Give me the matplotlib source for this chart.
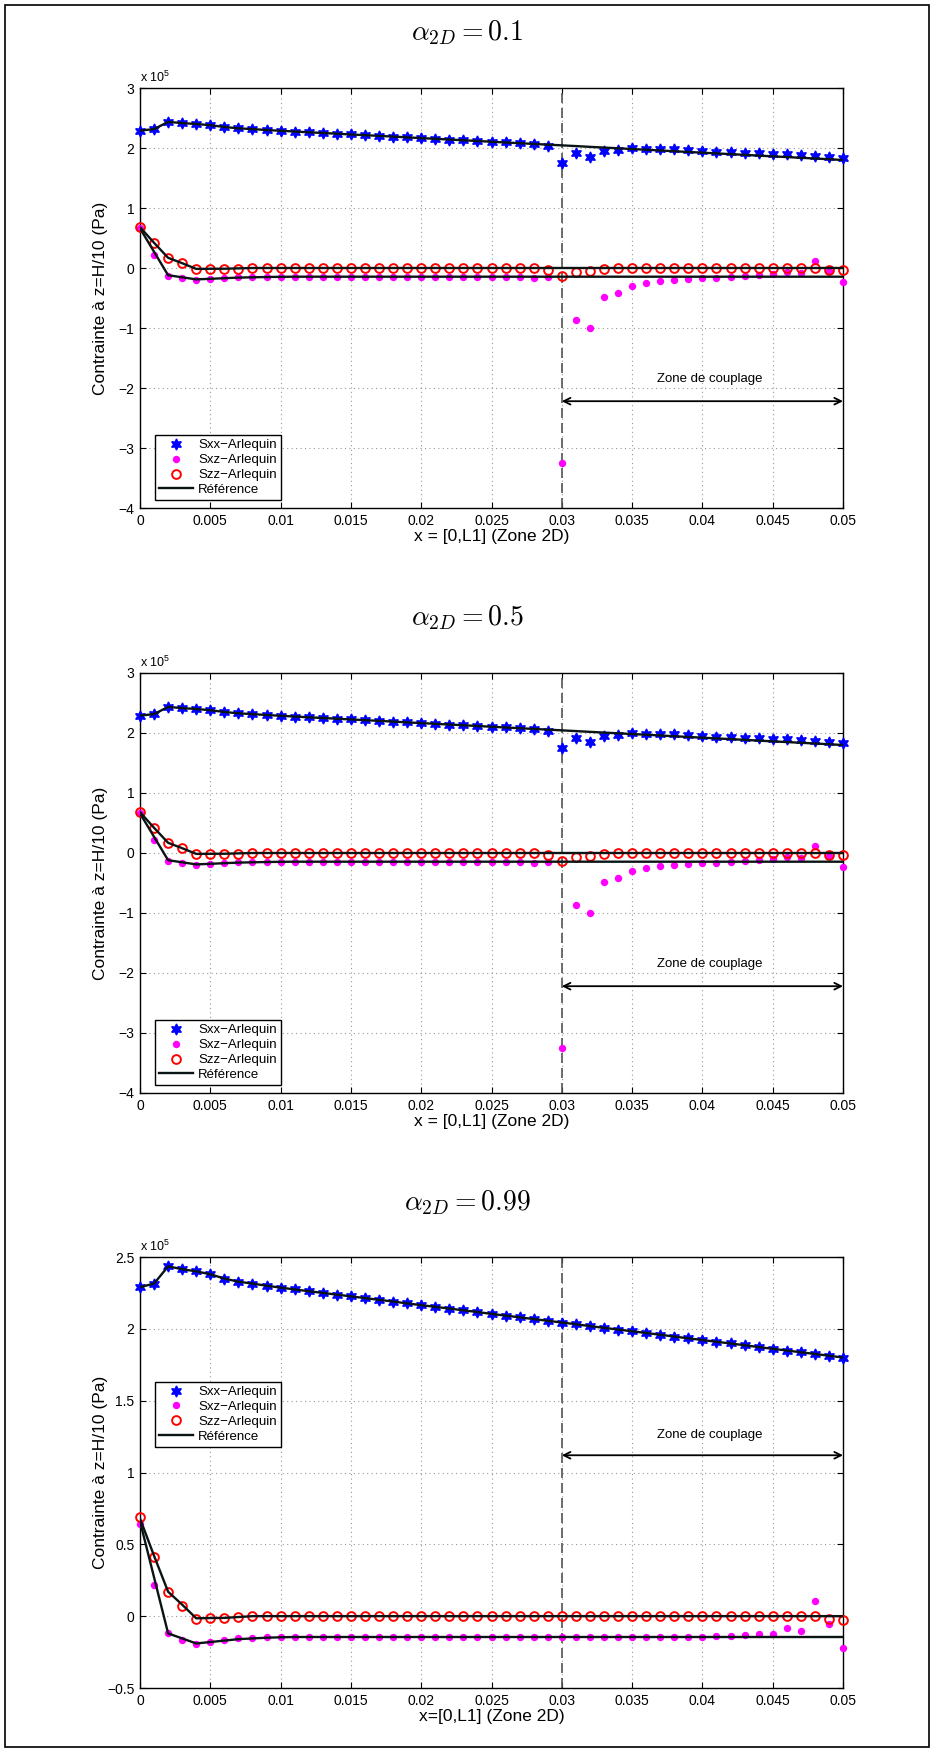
import numpy as np
import matplotlib
matplotlib.use('Agg')
import matplotlib.pyplot as plt
from matplotlib.patches import Rectangle
from matplotlib.ticker import FuncFormatter

plt.rcParams['font.family'] = ['Liberation Sans', 'DejaVu Sans']
plt.rcParams['mathtext.fontset'] = 'cm'

# abscissa (m), one point every mm
x_pos = np.round(np.arange(0, 0.0505, 0.001), 3)

# reference solution (x 1e5 Pa)
ref_sxx = [2.29, 2.315, 2.435, 2.415, 2.40, 2.38, 2.35, 2.328, 2.315, 2.30,
           2.287, 2.274, 2.262, 2.250, 2.238, 2.226, 2.214, 2.202, 2.190, 2.177,
           2.165, 2.153, 2.141, 2.129, 2.117, 2.104, 2.092, 2.080, 2.068, 2.056,
           2.044, 2.032, 2.019, 2.007, 1.995, 1.983, 1.971, 1.959, 1.946, 1.934,
           1.922, 1.910, 1.898, 1.886, 1.873, 1.861, 1.849, 1.837, 1.825, 1.813,
           1.800]
ref_sxz = [0.66, 0.27, -0.12, -0.155, -0.19, -0.18, -0.17, -0.16, -0.155, -0.15,
           -0.147] + [-0.145] * 40
ref_szz = [0.68, 0.42, 0.17, 0.08, -0.015, -0.013, -0.012, -0.006] + [0.0] * 43

# Arlequin, alpha = 0.1 and 0.5 (same curves)
arl_sxx = ref_sxx[:29] + [2.035, 1.745, 1.91, 1.845, 1.95, 1.967, 2.005, 1.99,
                          1.99, 1.98, 1.967, 1.955, 1.94, 1.93, 1.92, 1.91, 1.905,
                          1.895, 1.88, 1.86, 1.845, 1.83]
arl_sxz = [0.67, 0.22, -0.13, -0.17, -0.2, -0.185, -0.17, -0.155, -0.15, -0.145,
           -0.145, -0.145, -0.145, -0.145, -0.145, -0.145, -0.145, -0.145, -0.145,
           -0.145, -0.145, -0.145, -0.145, -0.145, -0.145, -0.15, -0.15, -0.15,
           -0.165, -0.155, -3.255, -0.867, -0.995, -0.478, -0.42, -0.295, -0.256,
           -0.217, -0.2, -0.183, -0.172, -0.16, -0.144, -0.128, -0.117, -0.106,
           -0.06, -0.089, 0.117, -0.044, -0.228]
arl_szz = [0.69, 0.42, 0.16, 0.08, -0.025, -0.02, -0.015, -0.01] + [0.0] * 21 + \
          [-0.03, -0.13, -0.06, -0.045, -0.01] + [0.0] * 15 + [-0.03, -0.03]

# Arlequin, alpha = 0.99
arl99_sxx = list(ref_sxx)
arl99_sxz = [0.64, 0.22, -0.12, -0.168, -0.196, -0.18, -0.168, -0.154, -0.15] + \
            [-0.145] * 32 + [-0.138, -0.138, -0.13, -0.124, -0.122, -0.083,
                             -0.104, 0.108, -0.058, -0.219]
arl99_szz = [0.69, 0.41, 0.165, 0.074, -0.018, -0.014, -0.012, -0.007] + \
            [0.0] * 41 + [-0.018, -0.03]

titles = [r'$\alpha_{2D} = 0.1$', r'$\alpha_{2D} = 0.5$', r'$\alpha_{2D} = 0.99$']
xlabels = ['x = [0,L1] (Zone 2D)', 'x = [0,L1] (Zone 2D)', 'x=[0,L1] (Zone 2D)']
x_ticks = [0, 0.005, 0.01, 0.015, 0.02, 0.025, 0.03, 0.035, 0.04, 0.045, 0.05]


def fmt(v, pos):
    return ('%g' % v).replace('-', '\u2212')


"""
Draws one panel of the figure
"""
def draw_panel(ax, sxx, sxz, szz, ylim, yticks, arrow_y, text_y, leg_loc, leg_anchor):
    ax.plot(x_pos, sxx, linestyle='none', marker=(6, 1, 0), markersize=8,
            color='#0000ff', label='Sxx\u2212Arlequin', clip_on=False, zorder=3)
    ax.plot(x_pos, sxz, linestyle='none', marker='o', markersize=4.3,
            color='#ff00ff', label='Sxz\u2212Arlequin', clip_on=False, zorder=3)
    ax.plot(x_pos, szz, linestyle='none', marker='o', markersize=6.3,
            markerfacecolor='none', markeredgecolor='#ff0000', markeredgewidth=1.4,
            label='Szz\u2212Arlequin', clip_on=False, zorder=3)
    ax.plot(x_pos, ref_sxx, color='#0a1414', lw=1.7, label='R\u00e9f\u00e9rence', zorder=4)
    ax.plot(x_pos, ref_sxz, color='#0a1414', lw=1.7, zorder=4)
    ax.plot(x_pos, ref_szz, color='#0a1414', lw=1.7, zorder=4)

    ax.axvline(0.03, color='#555555', lw=1.2, linestyle=(0, (6, 3)), zorder=2)
    ax.annotate('', xy=(0.03, arrow_y), xytext=(0.05, arrow_y),
                arrowprops=dict(arrowstyle='<->', color='k', lw=1.3,
                                shrinkA=0, shrinkB=0, mutation_scale=12))
    ax.text(0.0405, text_y, 'Zone de couplage', ha='center', va='center', fontsize=9.5)

    ax.set_xlim(0, 0.05)
    ax.set_ylim(*ylim)
    ax.set_xticks(x_ticks)
    ax.set_yticks(yticks)
    ax.xaxis.set_major_formatter(FuncFormatter(fmt))
    ax.yaxis.set_major_formatter(FuncFormatter(fmt))
    ax.tick_params(direction='in', top=True, right=True, labelsize=10, length=4, pad=4)
    ax.grid(True, linestyle=(0, (1, 3)), color='#999999', lw=0.8)
    for s in ax.spines.values():
        s.set_linewidth(1.0)

    ax.text(0, 1.008, r'x 10$\mathregular{^{5}}$', transform=ax.transAxes,
            ha='left', va='bottom', fontsize=9)
    ax.set_ylabel('Contrainte \u00e0 z=H/10 (Pa)', fontsize=12.5)
    ax.yaxis.set_label_coords(-0.045, 0.5)

    leg = ax.legend(loc=leg_loc, bbox_to_anchor=leg_anchor, fontsize=9.5, numpoints=1,
                    fancybox=False, framealpha=1, edgecolor='k', borderpad=0.3,
                    labelspacing=0.2, handlelength=2.6, handletextpad=0.4,
                    borderaxespad=0)
    leg.get_frame().set_linewidth(1.0)
    leg.set_zorder(6)


def main():
    fig = plt.figure(figsize=(9.34, 17.51), dpi=100)
    left = 140 / 934
    width = 703 / 934

    ax1 = fig.add_axes([left, (1751 - 508) / 1751, width, 420 / 1751])
    ax2 = fig.add_axes([left, (1751 - 1093) / 1751, width, 420 / 1751])
    ax3 = fig.add_axes([left, (1751 - 1688) / 1751, width, 431 / 1751])

    for ax in [ax1, ax2]:
        draw_panel(ax, arl_sxx, arl_sxz, arl_szz, (-4, 3), range(-4, 4),
                   -2.22, -1.85, 'lower left', (0.021, 0.019))
    draw_panel(ax3, arl99_sxx, arl99_sxz, arl99_szz, (-0.5, 2.5),
               [-0.5, 0, 0.5, 1, 1.5, 2, 2.5], 1.12, 1.26, 'upper left', (0.021, 0.71))

    for ax, lab in zip([ax1, ax2, ax3], xlabels):
        ax.set_xlabel(lab, fontsize=12.5, labelpad=1)

    for t, ypix in zip(titles, [33, 618, 1203]):
        fig.text(0.5, 1 - ypix / 1751, t, ha='center', va='center', fontsize=20)

    fig.add_artist(Rectangle((5 / 934, 4 / 1751), 924 / 934, 1742 / 1751,
                             transform=fig.transFigure, fill=False, lw=1.2,
                             edgecolor='k'))

    fig.savefig('out.png', dpi=100)
    plt.close()


if __name__ == '__main__':
    main()
